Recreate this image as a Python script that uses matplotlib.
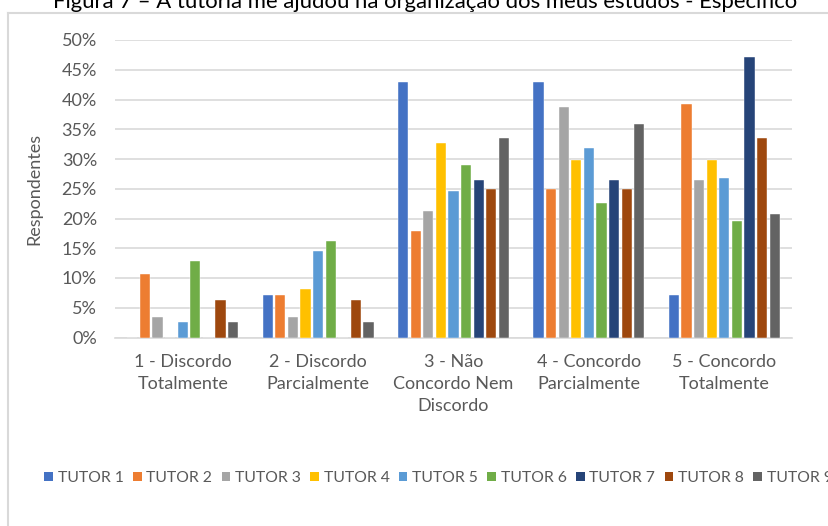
import matplotlib.pyplot as plt
import numpy as np
from matplotlib.patches import Patch
from matplotlib.lines import Line2D
from matplotlib.ticker import PercentFormatter

plt.rcParams['font.family'] = ['Lato', 'DejaVu Sans']

title = "Figura 7 – A tutoria me ajudou na organização dos meus estudos - Específico"
categories = ["1 - Discordo\nTotalmente", "2 - Discordo\nParcialmente",
              "3 - Não\nConcordo Nem\nDiscordo", "4 - Concordo\nParcialmente",
              "5 - Concordo\nTotalmente"]
tutors = ["TUTOR 1", "TUTOR 2", "TUTOR 3", "TUTOR 4", "TUTOR 5",
          "TUTOR 6", "TUTOR 7", "TUTOR 8", "TUTOR 9"]

# share of respondents per answer, one list per tutor
tutor1 = [0.0, 7.1, 42.9, 42.9, 7.1]
tutor2 = [10.7, 7.1, 17.9, 25.0, 39.3]
tutor3 = [3.4, 3.4, 21.2, 38.8, 26.5]
tutor4 = [0.0, 8.2, 32.7, 29.9, 29.9]
tutor5 = [2.6, 14.6, 24.6, 31.8, 26.8]
tutor6 = [12.9, 16.2, 29.0, 22.6, 19.6]
tutor7 = [0.0, 0.0, 26.5, 26.5, 47.1]
tutor8 = [6.25, 6.25, 25.0, 25.0, 33.5]
tutor9 = [2.6, 2.6, 33.5, 35.9, 20.7]
series = [tutor1, tutor2, tutor3, tutor4, tutor5, tutor6, tutor7, tutor8, tutor9]

colors = ["#4472C4", "#ED7D31", "#A5A5A5", "#FFC000", "#5B9BD5",
          "#70AD47", "#264478", "#9E480E", "#636363"]

W, H = 829, 526
fig = plt.figure(figsize=(W / 100, H / 100), dpi=100)
ax = fig.add_axes([115 / W, 1 - 337.5 / H, (792 - 115) / W, (337.5 - 40) / H])

x = np.arange(len(categories))
slot = 0.0932
for i, vals in enumerate(series):
    ax.bar(x + (i - 4) * slot, np.array(vals) / 100, width=0.075,
           color=colors[i], edgecolor="white", linewidth=0.3, zorder=3)

ax.set_xlim(-0.5, 4.5)
ax.set_ylim(0, 0.5)
ax.set_yticks(np.arange(0, 0.51, 0.05))
ax.yaxis.set_major_formatter(PercentFormatter(1.0, decimals=0))
ax.set_xticks(x)
ax.set_xticklabels(categories, linespacing=1.45)
ax.grid(axis="y", color="#d9d9d9", linewidth=1.2, zorder=0)
for s in ["top", "right", "left"]:
    ax.spines[s].set_visible(False)
ax.spines["bottom"].set_color("#d9d9d9")
ax.spines["bottom"].set_linewidth(1.2)
ax.tick_params(axis="both", length=0, labelsize=13, labelcolor="#595959")
ax.tick_params(axis="y", pad=13)
ax.tick_params(axis="x", pad=12)
ax.set_ylabel("Respondentes", fontsize=13, color="#595959", labelpad=14)

fig.text(0.513, 1 - 8 / H, title, ha="center", va="baseline", fontsize=15.9, color="black")

# chart frame (cut off at right and bottom)
fig.add_artist(Line2D([8 / W, 8 / W], [0, 1 - 13 / H], transform=fig.transFigure,
                      color="#d9d9d9", linewidth=1.5))
fig.add_artist(Line2D([8 / W, 1], [1 - 13 / H, 1 - 13 / H], transform=fig.transFigure,
                      color="#d9d9d9", linewidth=1.5))

handles = [Patch(facecolor=c, label=t) for c, t in zip(colors, tutors)]
fig.legend(handles=handles, ncol=9, frameon=False, loc="center left",
           bbox_to_anchor=(38 / W, 1 - 478 / H), fontsize=11.3, labelcolor="#595959",
           handlelength=0.55, handleheight=0.55, handletextpad=0.3, columnspacing=0.6,
           borderaxespad=0)

fig.savefig("out.png", dpi=100)
